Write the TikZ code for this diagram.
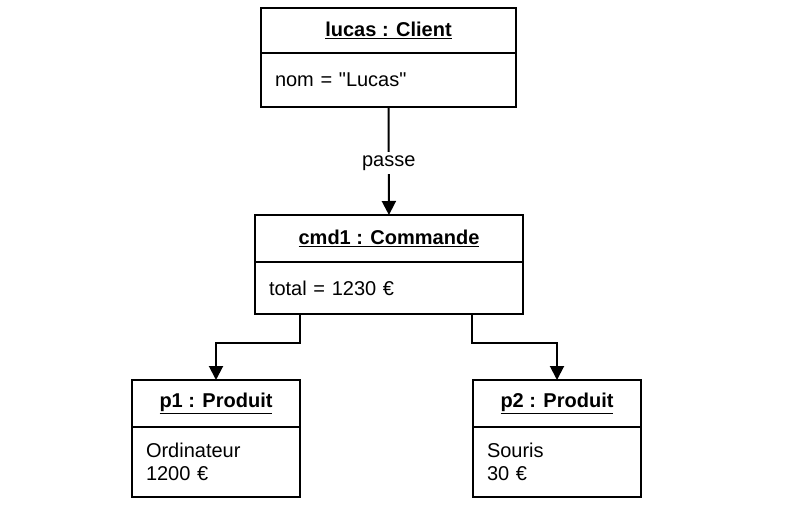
\documentclass[tikz,border=0pt]{standalone}
\usepackage{fontspec}
\setmainfont{Liberation Sans}[Ligatures=TeXOff]
\usepackage{tikz}
\usetikzlibrary{positioning,arrows.meta}
\newcommand{\umlfont}{\fontsize{20}{23}\selectfont}
\tikzstyle{head} = [rectangle,
                    draw=black,
                    line width=2pt,
                    outer sep=0pt,
                    minimum height=47pt,
                    inner sep=0pt,
                    font=\umlfont\bfseries]
\tikzstyle{body} = [rectangle,
                    draw=black,
                    line width=2pt,
                    outer sep=0pt,
                    inner xsep=14pt,
                    inner ysep=0pt,
                    align=left]
\tikzstyle{arrow} = [line width=2pt,
                     -{Triangle[length=14pt,width=14pt]}]

\begin{document}
\begin{tikzpicture}[x=1pt,y=-1pt,font=\umlfont]

    \useasboundingbox (0,0) rectangle (800,505);

    \node (lucash) [head, minimum width=255pt, minimum height=45pt] at (388.5,30.5) {\underline{lucas : Client}};
    \node (lucasb) [body, below=0pt of lucash, text width=227pt, minimum height=54pt] {nom = "Lucas"};

    \node (cmd1h) [head, minimum width=268pt] at (389,238.5) {\underline{cmd1 : Commande}};
    \node (cmd1b) [body, below=0pt of cmd1h, text width=240pt, minimum height=52pt] {total = 1230 €};

    \node (p1h) [head, minimum width=168pt] at (216,403.5) {\underline{p1 : Produit}};
    \node (p1b) [body, below=0pt of p1h, text width=140pt, minimum height=70pt] {Ordinateur\\1200 €};

    \node (p2h) [head, minimum width=168pt] at (557,403.5) {\underline{p2 : Produit}};
    \node (p2b) [body, below=0pt of p2h, text width=140pt, minimum height=70pt] {Souris\\30 €};

    \draw [arrow] (lucasb) -- node[fill=white, inner sep=4pt, yshift=-2pt] {passe} (cmd1h);
    \draw [arrow] ([xshift=45pt]cmd1b.south west) -- ++(0,29) -| (p1h);
    \draw [arrow] ([xshift=-51pt]cmd1b.south east) -- ++(0,29) -| (p2h);

\end{tikzpicture}
\end{document}
